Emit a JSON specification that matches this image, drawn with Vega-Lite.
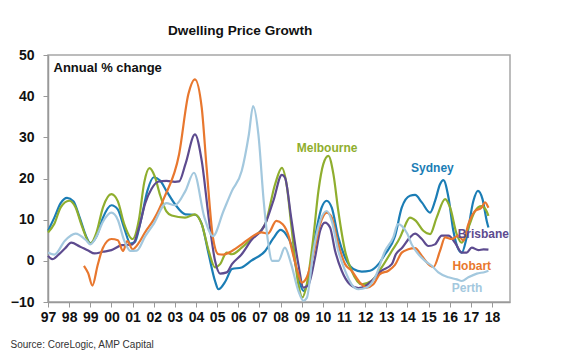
{
  "$schema": "https://vega.github.io/schema/vega-lite/v6.json",
  "autosize": {"type": "none"},
  "width": 462,
  "height": 247,
  "padding": {"left": 48, "top": 55, "right": 70, "bottom": 50},
  "background": "white",
  "title": {
    "text": "Dwelling Price Growth",
    "anchor": "start",
    "frame": "group",
    "dx": 120,
    "dy": 1,
    "offset": 0,
    "baseline": "alphabetic",
    "font": "Liberation Sans",
    "fontSize": 13.6,
    "fontWeight": "bold",
    "color": "#111111"
  },
  "config": {
    "view": {"stroke": "#a6a6a6", "strokeWidth": 1.5},
    "font": "Liberation Sans"
  },
  "datasets": {
    "series": [
      {"c":"Sydney","t":1997.0,"v":7.3},{"c":"Sydney","t":1997.3,"v":10.5},{"c":"Sydney","t":1997.6,"v":14},{"c":"Sydney","t":1997.9,"v":15.3},{"c":"Sydney","t":1998.2,"v":14.5},{"c":"Sydney","t":1998.5,"v":10.5},{"c":"Sydney","t":1998.8,"v":6},{"c":"Sydney","t":1999.0,"v":4.3},{"c":"Sydney","t":1999.3,"v":6},{"c":"Sydney","t":1999.6,"v":10.5},{"c":"Sydney","t":2000.0,"v":13.5},{"c":"Sydney","t":2000.3,"v":12.5},{"c":"Sydney","t":2000.6,"v":8},{"c":"Sydney","t":2000.9,"v":4.2},{"c":"Sydney","t":2001.1,"v":4.5},{"c":"Sydney","t":2001.4,"v":10},{"c":"Sydney","t":2001.7,"v":17},{"c":"Sydney","t":2002.0,"v":20.3},{"c":"Sydney","t":2002.3,"v":19.5},{"c":"Sydney","t":2002.6,"v":17},{"c":"Sydney","t":2003.0,"v":13.8},{"c":"Sydney","t":2003.5,"v":11.3},{"c":"Sydney","t":2003.95,"v":11.2},{"c":"Sydney","t":2004.27,"v":9},{"c":"Sydney","t":2004.6,"v":1.6},{"c":"Sydney","t":2004.9,"v":-4.9},{"c":"Sydney","t":2005.06,"v":-6.9},{"c":"Sydney","t":2005.4,"v":-4.9},{"c":"Sydney","t":2005.7,"v":-2},{"c":"Sydney","t":2006.16,"v":-1.6},{"c":"Sydney","t":2006.6,"v":0},{"c":"Sydney","t":2007.27,"v":2.4},{"c":"Sydney","t":2007.66,"v":5.5},{"c":"Sydney","t":2008.0,"v":7.5},{"c":"Sydney","t":2008.25,"v":6.5},{"c":"Sydney","t":2008.5,"v":4},{"c":"Sydney","t":2008.84,"v":-4},{"c":"Sydney","t":2009.08,"v":-7.3},{"c":"Sydney","t":2009.3,"v":-5},{"c":"Sydney","t":2009.63,"v":5.7},{"c":"Sydney","t":2009.94,"v":12.9},{"c":"Sydney","t":2010.18,"v":14.6},{"c":"Sydney","t":2010.42,"v":12.9},{"c":"Sydney","t":2010.73,"v":5.7},{"c":"Sydney","t":2011.05,"v":0.8},{"c":"Sydney","t":2011.44,"v":-2},{"c":"Sydney","t":2011.84,"v":-2.6},{"c":"Sydney","t":2012.23,"v":-2.4},{"c":"Sydney","t":2012.63,"v":-0.8},{"c":"Sydney","t":2012.94,"v":1.6},{"c":"Sydney","t":2013.41,"v":6},{"c":"Sydney","t":2013.73,"v":12.9},{"c":"Sydney","t":2014.12,"v":15.8},{"c":"Sydney","t":2014.36,"v":16},{"c":"Sydney","t":2014.68,"v":14.2},{"c":"Sydney","t":2015.07,"v":11.7},{"c":"Sydney","t":2015.31,"v":14.6},{"c":"Sydney","t":2015.54,"v":18.6},{"c":"Sydney","t":2015.7,"v":19.6},{"c":"Sydney","t":2015.94,"v":15.4},{"c":"Sydney","t":2016.17,"v":7.3},{"c":"Sydney","t":2016.41,"v":2.8},{"c":"Sydney","t":2016.57,"v":2},{"c":"Sydney","t":2016.8,"v":5.7},{"c":"Sydney","t":2017.12,"v":14.6},{"c":"Sydney","t":2017.33,"v":17},{"c":"Sydney","t":2017.55,"v":15},{"c":"Sydney","t":2017.75,"v":9.7},{"c":"Sydney","t":2017.83,"v":8.1},

      {"c":"Melbourne","t":1997.0,"v":6.9},{"c":"Melbourne","t":1997.3,"v":9},{"c":"Melbourne","t":1997.6,"v":13},{"c":"Melbourne","t":1998.0,"v":14.6},{"c":"Melbourne","t":1998.3,"v":13},{"c":"Melbourne","t":1998.6,"v":8.5},{"c":"Melbourne","t":1999.0,"v":4.2},{"c":"Melbourne","t":1999.3,"v":7},{"c":"Melbourne","t":1999.6,"v":13},{"c":"Melbourne","t":2000.0,"v":16.2},{"c":"Melbourne","t":2000.3,"v":14.5},{"c":"Melbourne","t":2000.6,"v":9},{"c":"Melbourne","t":2001.0,"v":5.3},{"c":"Melbourne","t":2001.3,"v":10},{"c":"Melbourne","t":2001.55,"v":19},{"c":"Melbourne","t":2001.8,"v":22.5},{"c":"Melbourne","t":2002.05,"v":20.5},{"c":"Melbourne","t":2002.3,"v":16},{"c":"Melbourne","t":2002.6,"v":12},{"c":"Melbourne","t":2002.85,"v":11},{"c":"Melbourne","t":2003.48,"v":10.5},{"c":"Melbourne","t":2003.95,"v":11.3},{"c":"Melbourne","t":2004.27,"v":8.9},{"c":"Melbourne","t":2004.6,"v":2.4},{"c":"Melbourne","t":2004.9,"v":-1.6},{"c":"Melbourne","t":2005.14,"v":-0.8},{"c":"Melbourne","t":2005.45,"v":2},{"c":"Melbourne","t":2005.7,"v":1.6},{"c":"Melbourne","t":2006.16,"v":3.2},{"c":"Melbourne","t":2006.6,"v":5.3},{"c":"Melbourne","t":2007.27,"v":8.9},{"c":"Melbourne","t":2007.74,"v":18.6},{"c":"Melbourne","t":2008.06,"v":22.6},{"c":"Melbourne","t":2008.3,"v":18},{"c":"Melbourne","t":2008.5,"v":8.9},{"c":"Melbourne","t":2008.84,"v":-5.7},{"c":"Melbourne","t":2009.03,"v":-8.9},{"c":"Melbourne","t":2009.24,"v":-5.7},{"c":"Melbourne","t":2009.55,"v":5.7},{"c":"Melbourne","t":2009.79,"v":17},{"c":"Melbourne","t":2010.02,"v":23.5},{"c":"Melbourne","t":2010.26,"v":25.5},{"c":"Melbourne","t":2010.5,"v":21},{"c":"Melbourne","t":2010.73,"v":12.1},{"c":"Melbourne","t":2011.05,"v":2.4},{"c":"Melbourne","t":2011.36,"v":-2.4},{"c":"Melbourne","t":2011.84,"v":-5.7},{"c":"Melbourne","t":2012.3,"v":-4.9},{"c":"Melbourne","t":2012.78,"v":-1.6},{"c":"Melbourne","t":2013.26,"v":2.4},{"c":"Melbourne","t":2013.65,"v":5.7},{"c":"Melbourne","t":2013.8,"v":7.5},{"c":"Melbourne","t":2014.12,"v":10.5},{"c":"Melbourne","t":2014.4,"v":9.7},{"c":"Melbourne","t":2014.75,"v":7.3},{"c":"Melbourne","t":2015.07,"v":6.5},{"c":"Melbourne","t":2015.38,"v":10.5},{"c":"Melbourne","t":2015.78,"v":15},{"c":"Melbourne","t":2016.02,"v":12.9},{"c":"Melbourne","t":2016.33,"v":6.5},{"c":"Melbourne","t":2016.57,"v":4.4},{"c":"Melbourne","t":2016.88,"v":8.1},{"c":"Melbourne","t":2017.2,"v":12.1},{"c":"Melbourne","t":2017.5,"v":13.3},{"c":"Melbourne","t":2017.75,"v":12},{"c":"Melbourne","t":2017.83,"v":10.9},

      {"c":"Brisbane","t":1997.0,"v":1.2},{"c":"Brisbane","t":1997.2,"v":0.4},{"c":"Brisbane","t":1997.5,"v":1.5},{"c":"Brisbane","t":1997.8,"v":3},{"c":"Brisbane","t":1998.1,"v":4.4},{"c":"Brisbane","t":1998.5,"v":3.5},{"c":"Brisbane","t":1998.9,"v":2.5},{"c":"Brisbane","t":1999.2,"v":1.8},{"c":"Brisbane","t":1999.6,"v":2.2},{"c":"Brisbane","t":2000.0,"v":2.6},{"c":"Brisbane","t":2000.5,"v":3.8},{"c":"Brisbane","t":2001.0,"v":4},{"c":"Brisbane","t":2001.3,"v":8},{"c":"Brisbane","t":2001.6,"v":14},{"c":"Brisbane","t":2001.9,"v":17.5},{"c":"Brisbane","t":2002.2,"v":19.2},{"c":"Brisbane","t":2002.6,"v":19.4},{"c":"Brisbane","t":2003.0,"v":19.2},{"c":"Brisbane","t":2003.2,"v":19.3},{"c":"Brisbane","t":2003.5,"v":23.5},{"c":"Brisbane","t":2003.95,"v":30.7},{"c":"Brisbane","t":2004.27,"v":24.3},{"c":"Brisbane","t":2004.6,"v":10.5},{"c":"Brisbane","t":2004.9,"v":0},{"c":"Brisbane","t":2005.14,"v":-3.1},{"c":"Brisbane","t":2005.45,"v":-2.8},{"c":"Brisbane","t":2005.7,"v":-0.8},{"c":"Brisbane","t":2006.16,"v":1.6},{"c":"Brisbane","t":2006.6,"v":4.9},{"c":"Brisbane","t":2007.27,"v":8.9},{"c":"Brisbane","t":2007.66,"v":14.6},{"c":"Brisbane","t":2008.06,"v":20.9},{"c":"Brisbane","t":2008.21,"v":20.2},{"c":"Brisbane","t":2008.5,"v":10.5},{"c":"Brisbane","t":2008.84,"v":-0.8},{"c":"Brisbane","t":2009.08,"v":-6.5},{"c":"Brisbane","t":2009.3,"v":-6},{"c":"Brisbane","t":2009.63,"v":0.8},{"c":"Brisbane","t":2009.87,"v":7.3},{"c":"Brisbane","t":2010.1,"v":9.3},{"c":"Brisbane","t":2010.34,"v":8.1},{"c":"Brisbane","t":2010.58,"v":2.4},{"c":"Brisbane","t":2010.89,"v":-2.4},{"c":"Brisbane","t":2011.28,"v":-5.7},{"c":"Brisbane","t":2011.68,"v":-6.6},{"c":"Brisbane","t":2011.99,"v":-6.2},{"c":"Brisbane","t":2012.3,"v":-4.9},{"c":"Brisbane","t":2012.78,"v":-2.4},{"c":"Brisbane","t":2013.26,"v":-0.8},{"c":"Brisbane","t":2013.45,"v":1.6},{"c":"Brisbane","t":2013.75,"v":3.2},{"c":"Brisbane","t":2014.12,"v":5.7},{"c":"Brisbane","t":2014.36,"v":6.6},{"c":"Brisbane","t":2014.68,"v":5.3},{"c":"Brisbane","t":2014.99,"v":3.6},{"c":"Brisbane","t":2015.3,"v":4},{"c":"Brisbane","t":2015.62,"v":6.1},{"c":"Brisbane","t":2015.94,"v":6.1},{"c":"Brisbane","t":2016.25,"v":4.4},{"c":"Brisbane","t":2016.57,"v":2},{"c":"Brisbane","t":2016.8,"v":2},{"c":"Brisbane","t":2017.04,"v":3.2},{"c":"Brisbane","t":2017.36,"v":2.6},{"c":"Brisbane","t":2017.6,"v":2.8},{"c":"Brisbane","t":2017.83,"v":2.7},

      {"c":"Hobart","t":1998.7,"v":-1.2},{"c":"Hobart","t":1998.9,"v":-3},{"c":"Hobart","t":1999.1,"v":-6},{"c":"Hobart","t":1999.35,"v":-1},{"c":"Hobart","t":1999.6,"v":3.2},{"c":"Hobart","t":2000.0,"v":5.3},{"c":"Hobart","t":2000.3,"v":5},{"c":"Hobart","t":2000.55,"v":2.4},{"c":"Hobart","t":2000.75,"v":4.8},{"c":"Hobart","t":2001.0,"v":2.8},{"c":"Hobart","t":2001.3,"v":4.4},{"c":"Hobart","t":2001.6,"v":7},{"c":"Hobart","t":2002.0,"v":10},{"c":"Hobart","t":2002.5,"v":15.4},{"c":"Hobart","t":2003.2,"v":25.9},{"c":"Hobart","t":2003.64,"v":40.5},{"c":"Hobart","t":2003.95,"v":44.1},{"c":"Hobart","t":2004.27,"v":37.2},{"c":"Hobart","t":2004.5,"v":22.7},{"c":"Hobart","t":2004.8,"v":5.7},{"c":"Hobart","t":2005.06,"v":1.6},{"c":"Hobart","t":2005.3,"v":1.5},{"c":"Hobart","t":2005.7,"v":2.4},{"c":"Hobart","t":2006.16,"v":4},{"c":"Hobart","t":2006.6,"v":5.7},{"c":"Hobart","t":2007.1,"v":6.9},{"c":"Hobart","t":2007.4,"v":6.6},{"c":"Hobart","t":2007.8,"v":9.7},{"c":"Hobart","t":2008.1,"v":8.9},{"c":"Hobart","t":2008.4,"v":5.7},{"c":"Hobart","t":2008.55,"v":2.4},{"c":"Hobart","t":2008.84,"v":-3.2},{"c":"Hobart","t":2009.0,"v":-5.3},{"c":"Hobart","t":2009.24,"v":-4},{"c":"Hobart","t":2009.55,"v":1.6},{"c":"Hobart","t":2009.87,"v":8.9},{"c":"Hobart","t":2010.18,"v":11.7},{"c":"Hobart","t":2010.42,"v":10.5},{"c":"Hobart","t":2010.73,"v":4},{"c":"Hobart","t":2011.05,"v":-0.8},{"c":"Hobart","t":2011.36,"v":-2.4},{"c":"Hobart","t":2011.76,"v":-5.3},{"c":"Hobart","t":2012.07,"v":-6.5},{"c":"Hobart","t":2012.39,"v":-5.7},{"c":"Hobart","t":2012.7,"v":-3.2},{"c":"Hobart","t":2013.1,"v":-2.4},{"c":"Hobart","t":2013.41,"v":-1},{"c":"Hobart","t":2013.73,"v":2},{"c":"Hobart","t":2014.04,"v":2.8},{"c":"Hobart","t":2014.36,"v":3.1},{"c":"Hobart","t":2014.68,"v":1.2},{"c":"Hobart","t":2014.99,"v":-0.8},{"c":"Hobart","t":2015.23,"v":-1.5},{"c":"Hobart","t":2015.54,"v":2.4},{"c":"Hobart","t":2015.78,"v":5.7},{"c":"Hobart","t":2016.1,"v":5.3},{"c":"Hobart","t":2016.41,"v":6.1},{"c":"Hobart","t":2016.65,"v":4.9},{"c":"Hobart","t":2016.88,"v":8.9},{"c":"Hobart","t":2017.2,"v":12.1},{"c":"Hobart","t":2017.5,"v":12.9},{"c":"Hobart","t":2017.67,"v":14.2},{"c":"Hobart","t":2017.83,"v":12.9},

      {"c":"Perth","t":1997.0,"v":2},{"c":"Perth","t":1997.3,"v":1.5},{"c":"Perth","t":1997.8,"v":4.9},{"c":"Perth","t":1998.3,"v":6.6},{"c":"Perth","t":1998.8,"v":5},{"c":"Perth","t":1999.0,"v":4},{"c":"Perth","t":1999.3,"v":6},{"c":"Perth","t":1999.6,"v":9.5},{"c":"Perth","t":2000.0,"v":11.7},{"c":"Perth","t":2000.3,"v":10},{"c":"Perth","t":2000.6,"v":5},{"c":"Perth","t":2000.9,"v":2.4},{"c":"Perth","t":2001.2,"v":2.5},{"c":"Perth","t":2001.6,"v":6},{"c":"Perth","t":2002.0,"v":9},{"c":"Perth","t":2002.6,"v":14},{"c":"Perth","t":2003.0,"v":13.5},{"c":"Perth","t":2003.5,"v":17},{"c":"Perth","t":2003.9,"v":21.4},{"c":"Perth","t":2004.4,"v":10.5},{"c":"Perth","t":2004.8,"v":6},{"c":"Perth","t":2005.3,"v":12.1},{"c":"Perth","t":2005.7,"v":17},{"c":"Perth","t":2006.16,"v":21.8},{"c":"Perth","t":2006.5,"v":30.7},{"c":"Perth","t":2006.7,"v":37.6},{"c":"Perth","t":2006.95,"v":30.7},{"c":"Perth","t":2007.2,"v":14.6},{"c":"Perth","t":2007.4,"v":4.9},{"c":"Perth","t":2007.6,"v":0},{"c":"Perth","t":2007.9,"v":0},{"c":"Perth","t":2008.2,"v":3.2},{"c":"Perth","t":2008.5,"v":-0.8},{"c":"Perth","t":2008.84,"v":-7.3},{"c":"Perth","t":2009.08,"v":-9.7},{"c":"Perth","t":2009.24,"v":-9},{"c":"Perth","t":2009.55,"v":2.4},{"c":"Perth","t":2009.87,"v":9.7},{"c":"Perth","t":2010.18,"v":12.1},{"c":"Perth","t":2010.42,"v":9.7},{"c":"Perth","t":2010.73,"v":2.4},{"c":"Perth","t":2011.05,"v":-2.4},{"c":"Perth","t":2011.36,"v":-5.7},{"c":"Perth","t":2011.68,"v":-6.9},{"c":"Perth","t":2012.07,"v":-6.5},{"c":"Perth","t":2012.47,"v":-4},{"c":"Perth","t":2012.94,"v":2.4},{"c":"Perth","t":2013.33,"v":5.7},{"c":"Perth","t":2013.55,"v":8.9},{"c":"Perth","t":2013.73,"v":8.5},{"c":"Perth","t":2014.0,"v":6.5},{"c":"Perth","t":2014.2,"v":4},{"c":"Perth","t":2014.52,"v":1.6},{"c":"Perth","t":2014.83,"v":0},{"c":"Perth","t":2015.15,"v":-1.2},{"c":"Perth","t":2015.46,"v":-2.8},{"c":"Perth","t":2015.94,"v":-4},{"c":"Perth","t":2016.33,"v":-4.5},{"c":"Perth","t":2016.57,"v":-4.9},{"c":"Perth","t":2016.88,"v":-4},{"c":"Perth","t":2017.28,"v":-3.1},{"c":"Perth","t":2017.67,"v":-2.7},{"c":"Perth","t":2017.83,"v":-2.4}
    ],
    "labels": [
      {"c":"Melbourne","t":2010.2,"v":27.3},
      {"c":"Sydney","t":2015.18,"v":22.5},
      {"c":"Brisbane","t":2017.59,"v":6.5},
      {"c":"Hobart","t":2017.04,"v":-1.2},
      {"c":"Perth","t":2016.82,"v":-6.6}
    ]
  },
  "encoding": {
    "x": {
      "field": "t",
      "type": "quantitative",
      "scale": {"domain": [1997, 2018.85], "nice": false, "zero": false},
      "axis": {
        "title": "Source: CoreLogic, AMP Capital",
        "titleAnchor": "start",
        "titleAlign": "left",
        "titleX": -38,
        "titleY": 42,
        "titleBaseline": "middle",
        "titleFontSize": 10,
        "titleFontWeight": "normal",
        "titleColor": "#333333",
        "titleFont": "Liberation Sans",
        "values": [1997,1998,1999,2000,2001,2002,2003,2004,2005,2006,2007,2008,2009,2010,2011,2012,2013,2014,2015,2016,2017,2018],
        "labelExpr": "slice(toString(datum.value), 2)",
        "labelFontSize": 14,
        "labelFontWeight": "bold",
        "labelColor": "#111111",
        "labelFont": "Liberation Sans",
        "labelPadding": 3,
        "labelOverlap": false,
        "labelFlush": false,
        "tickSize": 5,
        "tickColor": "#999999",
        "domainColor": "#999999",
        "domainWidth": 1.5,
        "grid": false
      }
    },
    "y": {
      "field": "v",
      "type": "quantitative",
      "scale": {"domain": [-10, 50], "nice": false},
      "axis": {
        "title": "Annual % change",
        "titleAngle": 0,
        "titleAlign": "left",
        "titleBaseline": "middle",
        "titleX": 5,
        "titleY": 12,
        "titleFontSize": 13,
        "titleFontWeight": "bold",
        "titleColor": "#111111",
        "titleFont": "Liberation Sans",
        "values": [-10, 0, 10, 20, 30, 40, 50],
        "labelFontSize": 14,
        "labelFontWeight": "bold",
        "labelColor": "#111111",
        "labelFont": "Liberation Sans",
        "labelPadding": 9,
        "labelFlush": false,
        "tickSize": 5,
        "tickColor": "#999999",
        "domainColor": "#999999",
        "domainWidth": 1.5,
        "grid": false
      }
    },
    "color": {
      "field": "c",
      "type": "nominal",
      "scale": {
        "domain": ["Sydney", "Melbourne", "Brisbane", "Hobart", "Perth"],
        "range": ["#1b7db5", "#8fae2e", "#5d4b8f", "#e8772e", "#a3c8de"]
      },
      "legend": null
    }
  },
  "layer": [
    {
      "mark": {"type": "rule", "color": "#555555", "strokeWidth": 1},
      "encoding": {"y": {"datum": 4}, "x": null, "color": null}
    },
    {
      "data": {"name": "series"},
      "mark": {"type": "line", "strokeWidth": 2.2, "interpolate": "monotone"},
      "encoding": {"order": {"field": "t", "type": "quantitative"}}
    },
    {
      "data": {"name": "labels"},
      "mark": {"type": "text", "fontSize": 12, "fontWeight": "bold", "font": "Liberation Sans", "align": "center", "baseline": "middle"},
      "encoding": {"text": {"field": "c"}}
    }
  ]
}
